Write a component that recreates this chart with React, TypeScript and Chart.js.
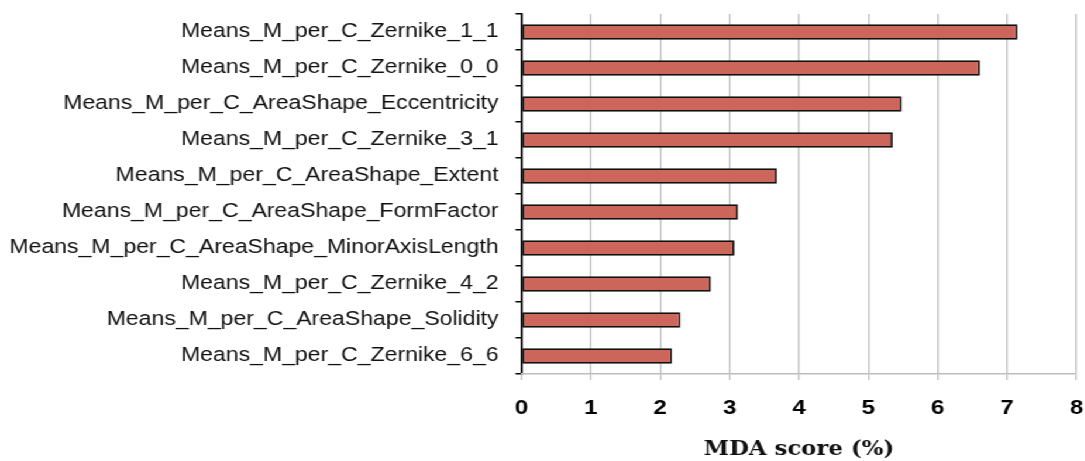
import { useEffect, useRef } from 'react';
import { Chart, registerables } from 'chart.js';

Chart.register(...registerables);

// Feature names, top to bottom
const features = [
  'Means_M_per_C_Zernike_1_1',
  'Means_M_per_C_Zernike_0_0',
  'Means_M_per_C_AreaShape_Eccentricity',
  'Means_M_per_C_Zernike_3_1',
  'Means_M_per_C_AreaShape_Extent',
  'Means_M_per_C_AreaShape_FormFactor',
  'Means_M_per_C_AreaShape_MinorAxisLength',
  'Means_M_per_C_Zernike_4_2',
  'Means_M_per_C_AreaShape_Solidity',
  'Means_M_per_C_Zernike_6_6',
];

// Mean decrease in accuracy (%)
const mdaScores = [7.15, 6.61, 5.48, 5.35, 3.68, 3.12, 3.07, 2.73, 2.29, 2.17];

// Value axis range
const xMin = 0;
const xMax = 8;
const xStep = 1;
const xTitle = 'MDA score (%)';

// The drawing is laid out narrow and widened with a horizontal stretch
const STRETCH = 1.17;
const OUT_W = 1085;
const OUT_H = 461;
const W = Math.round(OUT_W / STRETCH);
const H = OUT_H;

const AXIS_X = 521.5; // y-axis position in output pixels
const RIGHT_X = 1076.5; // position of the max value in output pixels
const PLOT_TOP = 14;
const PLOT_BOTTOM = 374;

const GRID_GRAY = '#bdbdbd';

// Drop the label overhang padding so the plot area is set by layout.padding alone
const clearPadding = (scale: any) => {
  scale.paddingTop = 0;
  scale.paddingBottom = 0;
  scale.paddingLeft = 0;
  scale.paddingRight = 0;
};

export default function App() {
  const canvasRef = useRef<HTMLCanvasElement>(null);

  useEffect(() => {
    const canvas = canvasRef.current;
    if (!canvas) return;
    const chart = new Chart(canvas, {
      type: 'bar',
      data: {
        labels: features,
        datasets: [
          {
            data: mdaScores,
            backgroundColor: '#cc665b',
            borderColor: '#111',
            borderWidth: 1.8,
            borderSkipped: false,
            categoryPercentage: 1,
            barPercentage: 0.43,
          },
        ],
      },
      options: {
        indexAxis: 'y',
        responsive: false,
        animation: false,
        devicePixelRatio: 1,
        layout: {
          padding: {
            top: PLOT_TOP,
            right: W - RIGHT_X / STRETCH,
            left: 0,
            bottom: 0,
          },
        },
        plugins: {
          legend: { display: false },
          tooltip: { enabled: false },
        },
        scales: {
          y: {
            type: 'category',
            afterFit: (scale: any) => {
              scale.width = AXIS_X / STRETCH;
              clearPadding(scale);
            },
            grid: {
              display: true,
              drawOnChartArea: false,
              drawTicks: true,
              tickLength: 6 / STRETCH,
              color: '#000',
              lineWidth: 1.5,
            },
            border: { display: true, color: '#000', width: 2 / STRETCH },
            ticks: {
              autoSkip: false,
              padding: 14.5,
              color: '#111',
              font: { family: 'Liberation Sans', size: 19.7 },
            },
          },
          x: {
            type: 'linear',
            min: xMin,
            max: xMax,
            afterFit: (scale: any) => {
              scale.height = H - PLOT_BOTTOM;
              clearPadding(scale);
            },
            grid: {
              color: (ctx: any) => (ctx.tick && ctx.tick.value === 0 ? 'rgba(0,0,0,0)' : GRID_GRAY),
              tickColor: GRID_GRAY,
              lineWidth: 1.5 / STRETCH,
              tickLength: 6,
            },
            border: { display: true, color: GRID_GRAY, width: 1.5 },
            ticks: {
              stepSize: xStep,
              padding: 16,
              color: '#000',
              font: { family: 'Liberation Sans', size: 20.5, weight: 'bold' },
            },
            title: {
              display: true,
              text: xTitle,
              color: '#111',
              padding: { top: 4, bottom: -1 },
              font: { family: 'DejaVu Serif', size: 19.5, weight: 'bold' },
            },
          },
        },
      },
    });
    return () => chart.destroy();
  }, []);

  return (
    <div
      style={{
        position: 'absolute',
        left: 0,
        top: 0,
        width: W,
        height: H,
        transform: `scaleX(${STRETCH})`,
        transformOrigin: '0 0',
        background: '#fff',
      }}
    >
      <canvas ref={canvasRef} width={W} height={H} style={{ width: W, height: H }} />
    </div>
  );
}
